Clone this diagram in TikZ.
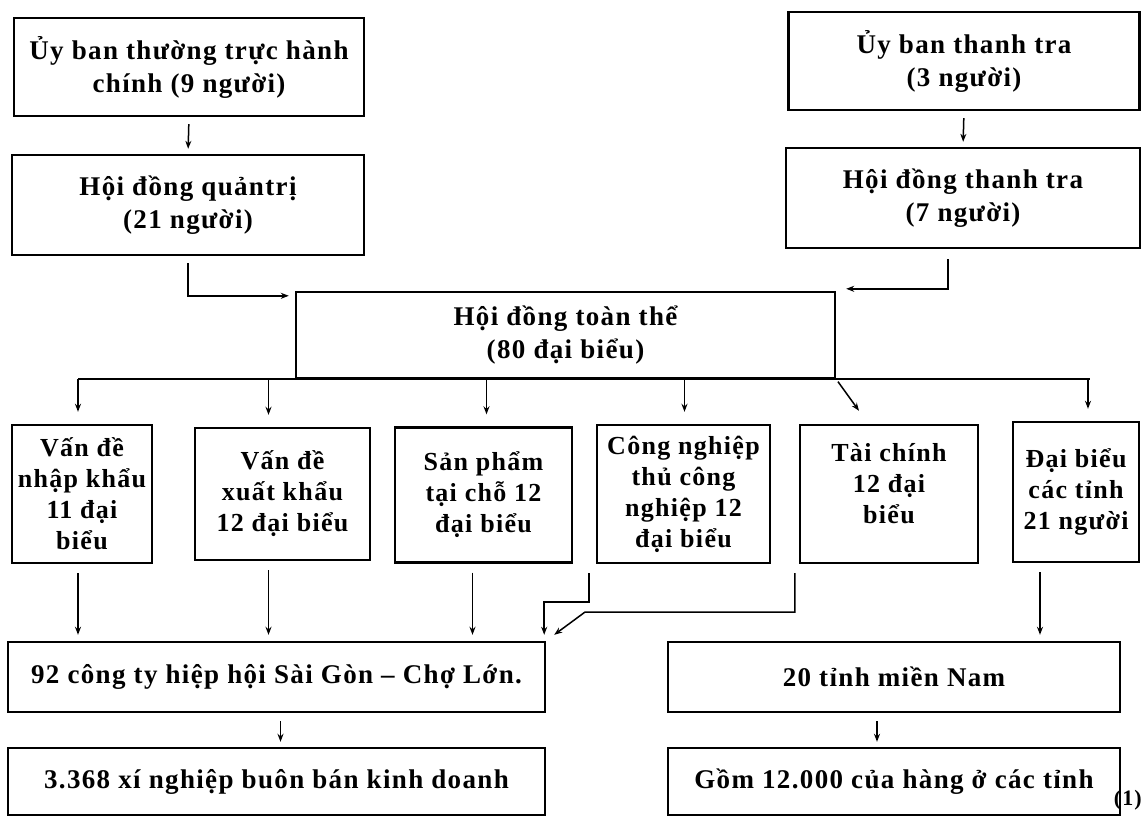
\documentclass[tikz,border=0pt]{standalone}
\usepackage{fontspec}
\setmainfont{Liberation Serif}[LetterSpace=5]
\usetikzlibrary{arrows.meta}
\begin{document}
\begin{tikzpicture}[x=1pt,y=-1pt,
  box/.style={draw,line width=2.4pt,align=center,inner sep=0pt,
    font=\fontsize{27}{33}\selectfont\bfseries},
  sbox/.style={box,font=\fontsize{26}{31}\selectfont\bfseries},
  conn/.style={line width=1.5pt,-{Stealth[length=8pt,width=6pt]}},
  plain/.style={line width=1.5pt}]
\useasboundingbox (0,0) rectangle (1144,817);
% top left
\node[box,minimum width=350pt,minimum height=98pt] (b1) at (189,67)
  {Ủy ban thường trực hành\\chính (9 người)};
\node[box,minimum width=352pt,minimum height=100pt] (b2) at (188,205)
  {Hội đồng quảntrị\\(21 người)};
% top right
\node[box,minimum width=351pt,minimum height=98pt] (b3) at (964,61)
  {Ủy ban thanh tra\\(3 người)};
\node[box,minimum width=354pt,minimum height=100pt] (b4) at (963,198)
  {Hội đồng thanh tra\\(7 người)};
% central
\node[box,minimum width=539pt,minimum height=86pt] (c0) at (565.5,335)
  {Hội đồng toàn thể\\(80 đại biểu)};
% row 2
\node[sbox,minimum width=140pt,minimum height=138pt] (c1) at (82,494)
  {Vấn đề\\nhập khẩu\\11 đại\\biểu};
\node[sbox,minimum width=175pt,minimum height=132pt] (c2) at (282.5,494)
  {Vấn đề\\xuất khẩu\\12 đại biểu};
\node[sbox,minimum width=177pt,minimum height=135pt] (c3) at (483.5,495)
  {Sản phẩm\\tại chỗ 12\\đại biểu};
\node[sbox,minimum width=173pt,minimum height=138pt] (c4) at (683.5,494)
  {Công nghiệp\\thủ công\\nghiệp 12\\đại biểu};
\node[sbox,minimum width=178pt,minimum height=138pt] (c5) at (889,494)
  {Tài chính\\12 đại\\biểu\\[-10pt]};
\node[sbox,minimum width=126pt,minimum height=140pt] (c6) at (1076,492)
  {Đại biểu\\các tỉnh\\21 người};
% row 3
\node[box,minimum width=537pt,minimum height=70pt] (d1) at (276.5,677)
  {92 công ty hiệp hội Sài Gòn -- Chợ Lớn.};
\node[box,minimum width=452pt,minimum height=70pt] (d2) at (894,677)
  {20 tỉnh miền Nam};
% row 4
\node[box,minimum width=537pt,minimum height=67pt] (e1) at (276.5,781.5)
  {3.368 xí nghiệp buôn bán kinh doanh};
\node[box,minimum width=452pt,minimum height=67pt] (e2) at (894,781.5)
  {Gồm 12.000 của hàng ở các tỉnh};
\node[anchor=east,inner sep=1pt,font=\fontsize{22}{24}\selectfont\bfseries] (note) at (1143,800) {(1)};
% top connectors
\draw[conn,shorten <=7pt,shorten >=5pt] (b1.south) -- (b2.north);
\draw[conn,shorten <=7pt,shorten >=5pt] (b3.south) -- (b4.north);
\draw[conn] ([yshift=-7pt]b2.south) |- ([xshift=-6pt,yshift=-5pt]c0.north west);
\draw[conn] ([xshift=-15pt,yshift=-10pt]b4.south) |- ([xshift=10pt,yshift=2pt]c0.north east);
% bus
\coordinate (busL) at (c1.north |- c0.south);
\draw[plain] ([xshift=-4pt]busL) -- ([xshift=14pt]c6.north |- c0.south);
\draw[conn,shorten >=12pt] ([xshift=-4pt]c0.south -| c1.north) -- ([xshift=-4pt]c1.north);
\draw[conn,shorten >=12pt] ([xshift=-14pt]c0.south -| c2.north) -- ([xshift=-14pt]c2.north);
\draw[conn,shorten >=12pt] ([xshift=3pt]c0.south -| c3.north) -- ([xshift=3pt]c3.north);
\draw[conn,shorten >=12pt] ([xshift=1pt]c0.south -| c4.north) -- ([xshift=1pt]c4.north);
\draw[conn,shorten <=3pt] (c0.south east) -- ([xshift=-30pt,yshift=13pt]c5.north);
\draw[conn,shorten >=12pt] ([xshift=12pt]c0.south -| c6.north) -- ([xshift=12pt]c6.north);
% row 2 to row 3
\draw[conn,shorten <=9pt,shorten >=6pt] ([xshift=-4pt]c1.south) -- ([xshift=-4pt]c1.south |- d1.north);
\draw[conn,shorten <=9pt,shorten >=6pt] ([xshift=-14pt]c2.south) -- ([xshift=-14pt]c2.south |- d1.north);
\draw[conn,shorten <=9pt,shorten >=6pt] ([xshift=-11pt]c3.south) -- ([xshift=-11pt]c3.south |- d1.north);
\coordinate (k4) at ([xshift=-7pt,yshift=-38pt]c4.south west);
\coordinate (t4) at ([xshift=-2pt,yshift=6pt]d1.north east);
\draw[conn] ([xshift=-7pt,yshift=-9pt]c4.south west) -- (k4) -- (k4 -| t4) -- (t4);
\coordinate (k5) at ([xshift=-4pt,yshift=-48pt]c5.south west);
\draw[conn] ([xshift=-4pt,yshift=-9pt]c5.south west) -- (k5) -- ([xshift=-210pt]k5) -- ([xshift=8pt,yshift=6pt]d1.north east);
\draw[conn,shorten <=9pt,shorten >=6pt] ([xshift=-36pt]c6.south) -- ([xshift=-36pt]c6.south |- d2.north);
% row 3 to row 4
\draw[conn,shorten <=8pt,shorten >=5pt] ([xshift=4pt]d1.south) -- ([xshift=4pt]e1.north);
\draw[conn,shorten <=8pt,shorten >=5pt] ([xshift=-17pt]d2.south) -- ([xshift=-17pt]e2.north);
\end{tikzpicture}
\end{document}
